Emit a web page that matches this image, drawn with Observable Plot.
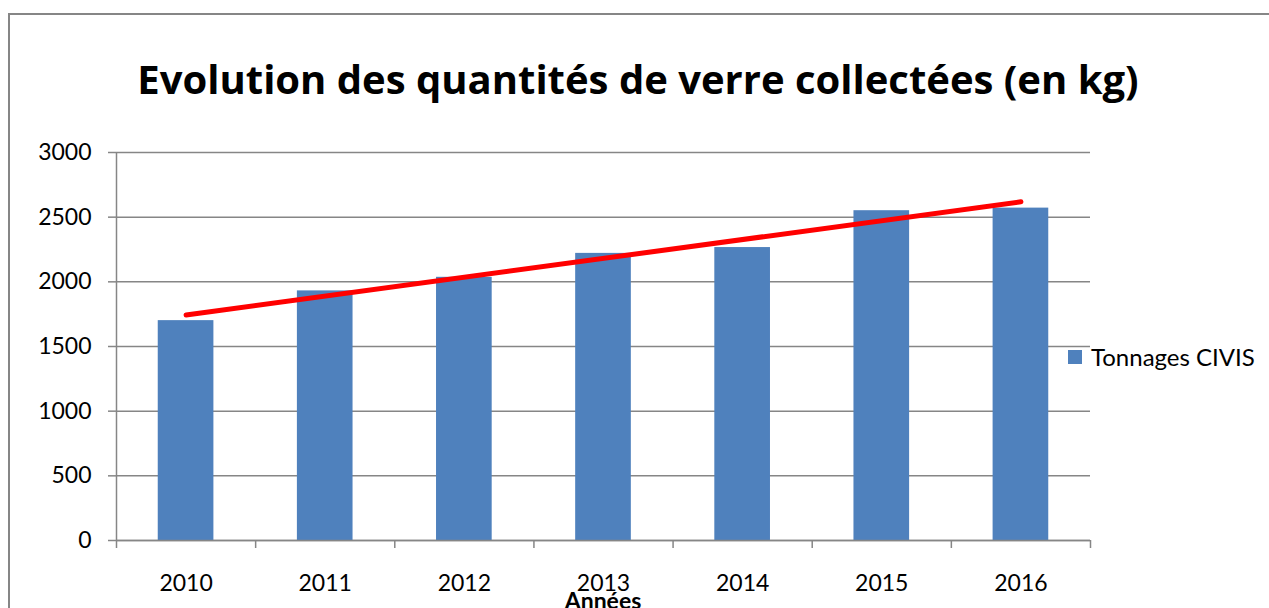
<!DOCTYPE html>
<html>
<head>
<meta charset="utf-8">
<script src="https://cdn.jsdelivr.net/npm/d3@7"></script>
<script src="https://cdn.jsdelivr.net/npm/@observablehq/plot@0.6"></script>
<style>
  body { margin: 0; background: #fff; }
  #wrap { position: relative; width: 1269px; height: 608px; overflow: hidden; font-family: Lato, sans-serif; color: #000; }
  #frame { position: absolute; left: 8px; top: 13px; width: 1400px; height: 800px; border-top: 2px solid #868686; border-left: 2px solid #868686; box-sizing: border-box; }
  #title { position: absolute; left: 0; width: 1276px; top: 55px; text-align: center; font-family: "Open Sans", sans-serif; font-weight: bold; font-size: 40px; line-height: 48px; white-space: nowrap; }
  #chart { position: absolute; left: 0; top: 0; }
  #legend { position: absolute; left: 1068px; top: 343px; display: flex; align-items: center; font-size: 24px; line-height: 28px; white-space: nowrap; }
  #legend .sw { width: 14px; height: 14px; background: #4F81BD; margin-right: 9px; }
  #xlabel { position: absolute; left: 503px; width: 200px; top: 586px; text-align: center; font-weight: bold; font-size: 23px; line-height: 28px; }
</style>
</head>
<body>
<div id="wrap">
  <div id="frame"></div>
  <div id="chart"></div>
  <div id="title">Evolution des quantités de verre collectées (en kg)</div>
  <div id="legend"><div class="sw"></div><span>Tonnages CIVIS</span></div>
  <div id="xlabel">Années</div>
</div>
<script>
const years = [2010, 2011, 2012, 2013, 2014, 2015, 2016];
const tonnages = [1700, 1930, 2035, 2220, 2265, 2550, 2570];
const yTicks = [0, 500, 1000, 1500, 2000, 2500, 3000];

const data = years.map((y, i) => ({year: y, value: tonnages[i]}));
const bounds = d3.range(years.length + 1).map(i => years[0] - 0.5 + i);

const chart = Plot.plot({
  width: 1269,
  height: 608,
  marginLeft: 116,
  marginRight: 179,
  marginTop: 152,
  marginBottom: 68,
  x: {type: "linear", domain: [years[0] - 0.5, years[years.length - 1] + 0.5]},
  y: {domain: [0, 3000]},
  style: {fontFamily: "Lato, sans-serif", fontSize: "23px", color: "#000", background: "transparent", overflow: "visible"},
  marks: [
    Plot.gridY(yTicks, {stroke: "#868686", strokeOpacity: 1, strokeWidth: 1.5}),
    Plot.rectY(data, {x1: d => d.year - 0.2, x2: d => d.year + 0.2, y: "value", fill: "#4F81BD"}),
    Plot.linearRegressionY(data, {x: "year", y: "value", ci: 0, stroke: "#FF0000", strokeWidth: 5, strokeLinecap: "round"}),
    Plot.ruleY([0], {stroke: "#868686", strokeWidth: 1.5}),
    Plot.ruleX([years[0] - 0.5], {stroke: "#868686", strokeWidth: 1.5}),
    Plot.axisY({ticks: yTicks, tickSize: 8, tickPadding: 17, stroke: "#868686", strokeOpacity: 1, strokeWidth: 1.5, label: null, tickFormat: d => String(d)}),
    Plot.axisX({ticks: bounds, tickSize: 8, tickFormat: () => "", stroke: "#868686", strokeOpacity: 1, strokeWidth: 1.5, label: null}),
    Plot.axisX({ticks: years, tickSize: 0, tickPadding: 34, tickFormat: d => String(d), label: null})
  ]
});
document.getElementById("chart").appendChild(chart);
</script>
</body>
</html>
